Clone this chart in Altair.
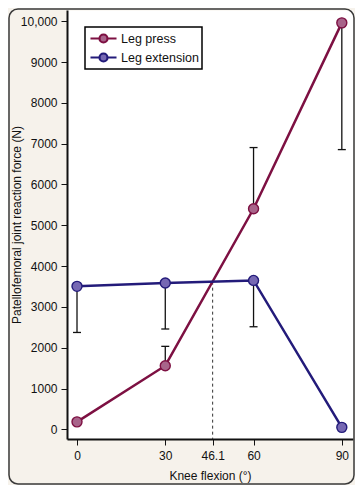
import altair as alt
import pandas as pd

# ---- data ----
angles = [0, 30, 60, 90]
leg_press = [185, 1560, 5405, 9960]
leg_press_bound = [None, 2035, 6905, 6855]
leg_extension = [3505, 3585, 3650, 50]
leg_extension_bound = [2375, 2460, 2515, None]
series_names = ["Leg press", "Leg extension"]
line_colors = ["#7d1042", "#231b7a"]
fill_colors = ["#a8648a", "#7668b3"]
x_ticks = [0, 30, 46.1, 60, 90]
y_ticks = [0, 1000, 2000, 3000, 4000, 5000, 6000, 7000, 8000, 9000, 10000]
cross_x = [46.1]
cross_y = [3620]

rows = []
for i, a in enumerate(angles):
    rows.append({"series": "Leg press", "angle": a, "force": leg_press[i], "bound": leg_press_bound[i]})
for i, a in enumerate(angles):
    rows.append({"series": "Leg extension", "angle": a, "force": leg_extension[i], "bound": leg_extension_bound[i]})
df = pd.DataFrame(rows)
err = df.dropna(subset=["bound"]).copy()
cross = pd.DataFrame({"angle": cross_x, "force": cross_y})
frame_df = pd.DataFrame({"k": [0]})

FONT = "Liberation Sans"

xscale = alt.Scale(domain=[-3.4, 93.8], nice=False, zero=False)
yscale = alt.Scale(domain=[-235, 10275], nice=False, zero=False)

x_enc = alt.X("angle:Q", scale=xscale,
              axis=alt.Axis(values=x_ticks, format=".4~g", title="Knee flexion (°)",
                            labelPadding=5, titlePadding=9))
y_enc = alt.Y("force:Q", scale=yscale,
              axis=alt.Axis(values=y_ticks,
                            labelExpr="datum.value == 10000 ? '10,000' : format(datum.value, 'd')",
                            title="Patellofemoral joint reaction force (N)", titlePadding=-3))

# line + circle symbol; unit scale = 7px (symbolSize 196)
sym_path = ("M-1.86,0L-0.57,0M0.57,0L1.86,0"
            "M-0.57,0A0.57,0.57,0,1,1,0.57,0A0.57,0.57,0,1,1,-0.57,0Z")

def make_legend():
    return alt.Legend(title=None, orient="none", legendX=18, legendY=17,
                      strokeColor="black", fillColor="white", padding=3,
                      labelFont=FONT, labelFontSize=12.5, labelColor="#111",
                      symbolType=sym_path, symbolSize=196, symbolStrokeWidth=2.2,
                      symbolOffset=7, rowPadding=2, labelOffset=9)

stroke_enc = alt.Stroke("series:N", scale=alt.Scale(domain=series_names, range=line_colors),
                        legend=make_legend())
fill_enc = alt.Fill("series:N", scale=alt.Scale(domain=series_names, range=fill_colors),
                    legend=make_legend())

frame = alt.Chart(frame_df).mark_rect(
    fill="transparent", stroke="#3a3a3a", strokeWidth=1.5, cornerRadius=9
).encode(x=alt.value(-58), x2=alt.value(287), y=alt.value(-1), y2=alt.value(474))

dashed = alt.Chart(cross).mark_rule(strokeDash=[3, 3], strokeWidth=1, color="#333").encode(
    x=alt.X("angle:Q", scale=xscale), y=alt.Y("force:Q", scale=yscale), y2=alt.value(429)
)

bars = alt.Chart(err).mark_rule(color="#111", strokeWidth=1.3).encode(
    x="angle:Q", y="force:Q", y2="bound:Q"
)
caps = alt.Chart(err).mark_rule(color="#111", strokeWidth=1.3, xOffset=-4, x2Offset=4).encode(
    x="angle:Q", x2="angle:Q", y="bound:Q"
)

lines = alt.Chart(df).mark_line(strokeWidth=2.5).encode(
    x=x_enc, y=y_enc, stroke=stroke_enc
)
points = alt.Chart(df).mark_point(filled=True, shape="circle", size=100, strokeWidth=1.4, opacity=1).encode(
    x="angle:Q", y="force:Q", fill=fill_enc, stroke=alt.Stroke("series:N")
)

chart = alt.layer(frame, dashed, bars, caps, lines, points).properties(
    width=286, height=429,
    autosize=alt.AutoSizeParams(type="none"),
    padding={"left": 59, "top": 2, "right": 2, "bottom": 46},
    background="#f6f2eb",
).configure_view(
    fill="white", stroke="transparent"
).configure_axis(
    grid=False, domainColor="#111", domainWidth=2, tickColor="#111", tickWidth=1, tickSize=6,
    labelFont=FONT, titleFont=FONT, labelFontSize=12, titleFontSize=12,
    labelColor="#111", titleColor="#111", titleFontWeight="normal", labelPadding=4
).configure_legend(
    strokeWidth=1.5
)

chart.save("out.html", embed_options={"renderer": "svg", "actions": False})
